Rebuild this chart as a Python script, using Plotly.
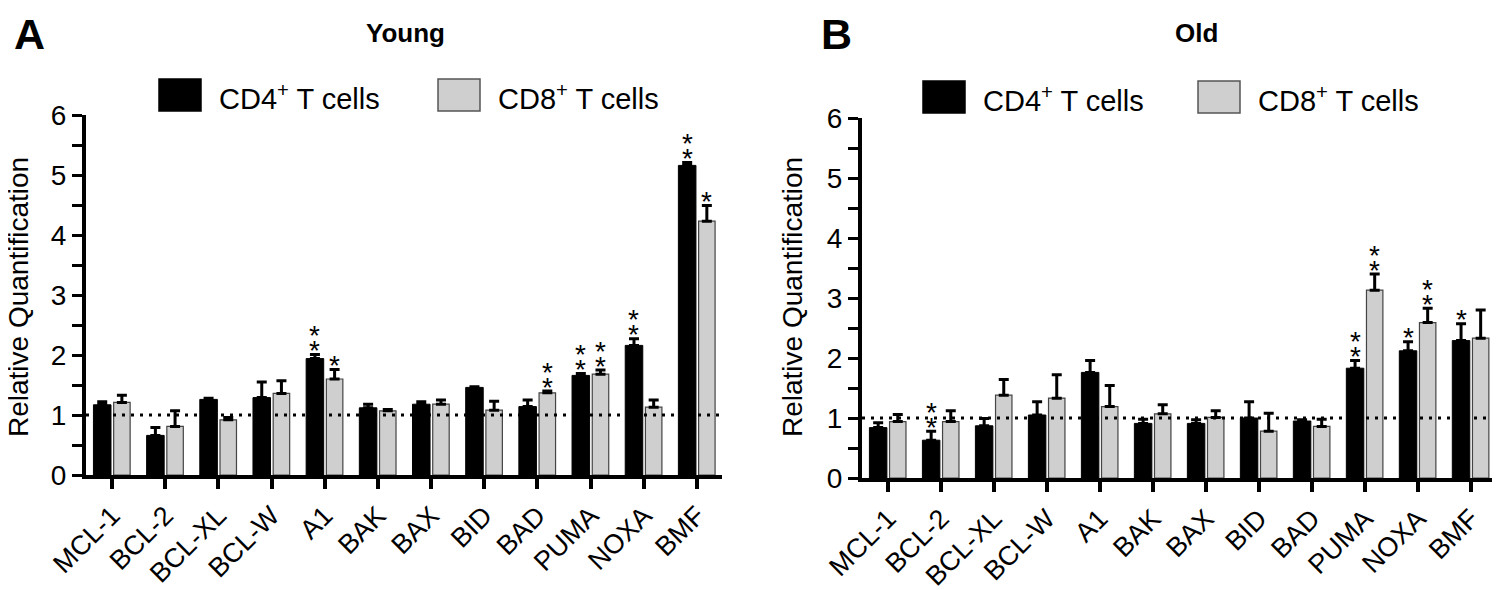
import plotly.graph_objects as go

# genes on the x axis
genes = ["MCL-1", "BCL-2", "BCL-XL", "BCL-W", "A1", "BAK", "BAX", "BID", "BAD", "PUMA", "NOXA", "BMF"]

# young mice - relative quantification (mean) and upper error (SEM)
young_cd4 = [1.17, 0.66, 1.26, 1.29, 1.94, 1.12, 1.18, 1.46, 1.14, 1.66, 2.16, 5.16]
young_cd4_err = [0.05, 0.13, 0.02, 0.26, 0.07, 0.06, 0.04, 0.01, 0.11, 0.03, 0.11, 0.05]
young_cd8 = [1.21, 0.81, 0.92, 1.36, 1.60, 1.07, 1.18, 1.08, 1.37, 1.68, 1.13, 4.23]
young_cd8_err = [0.12, 0.26, 0.04, 0.21, 0.16, 0.02, 0.07, 0.15, 0.03, 0.07, 0.12, 0.26]
young_cd4_stars = [0, 0, 0, 0, 2, 0, 0, 0, 0, 2, 2, 2]
young_cd8_stars = [0, 0, 0, 0, 1, 0, 0, 0, 2, 2, 0, 1]

# old mice
old_cd4 = [0.84, 0.63, 0.87, 1.05, 1.76, 0.91, 0.91, 1.00, 0.95, 1.83, 2.12, 2.29]
old_cd4_err = [0.08, 0.15, 0.12, 0.22, 0.20, 0.07, 0.06, 0.27, 0.02, 0.13, 0.15, 0.28]
old_cd8 = [0.94, 0.94, 1.38, 1.33, 1.19, 1.07, 1.01, 0.78, 0.86, 3.13, 2.59, 2.33]
old_cd8_err = [0.12, 0.18, 0.26, 0.39, 0.35, 0.15, 0.11, 0.30, 0.12, 0.27, 0.24, 0.47]
old_cd4_stars = [0, 2, 0, 0, 0, 0, 0, 0, 0, 2, 1, 1]
old_cd8_stars = [0, 0, 0, 0, 0, 0, 0, 0, 0, 2, 2, 0]

FONT = "Liberation Sans, Arial, sans-serif"
GREY = "#cfcfcf"
W, H = 1500, 590
PAGE_PAD = 8  # the html body adds an 8px margin round the figure


# pixel position on the page -> paper fraction
def px(x):
    return (x - PAGE_PAD) / W


def py(y):
    return 1 - (y - PAGE_PAD) / H


fig = go.Figure()

panels = [
    ("x", "y", young_cd4, young_cd4_err, young_cd8, young_cd8_err, young_cd4_stars, young_cd8_stars),
    ("x2", "y2", old_cd4, old_cd4_err, old_cd8, old_cd8_err, old_cd4_stars, old_cd8_stars),
]

for xa, ya, cd4, cd4_err, cd8, cd8_err, st4, st8 in panels:
    # CD4 bars (black)
    fig.add_trace(go.Bar(
        x=genes, y=cd4, xaxis=xa, yaxis=ya,
        width=0.33, offset=-0.35,
        marker=dict(color="black", line=dict(color="black", width=1)),
        error_y=dict(type="data", symmetric=False, array=cd4_err, arrayminus=[0] * len(cd4),
                     color="black", thickness=3, width=5),
        showlegend=False,
    ))
    # CD8 bars (grey)
    fig.add_trace(go.Bar(
        x=genes, y=cd8, xaxis=xa, yaxis=ya,
        width=0.31, offset=0.03,
        marker=dict(color=GREY, line=dict(color="#444444", width=1.2)),
        error_y=dict(type="data", symmetric=False, array=cd8_err, arrayminus=[0] * len(cd8),
                     color="black", thickness=3, width=5),
        showlegend=False,
    ))
    # significance stars above the error bars
    for vals, errs, stars, dx in [(cd4, cd4_err, st4, -0.185), (cd8, cd8_err, st8, 0.185)]:
        for i in range(len(genes)):
            for k in range(stars[i]):
                fig.add_annotation(
                    x=i + dx, y=vals[i] + errs[i], xref=xa, yref=ya,
                    text="*", showarrow=False, yanchor="middle",
                    yshift=4 + 15 * k,
                    font=dict(family=FONT, size=28, color="black"),
                )
    # dotted reference line at 1
    fig.add_shape(type="line", xref=xa + " domain", yref=ya, x0=0, x1=1, y0=1, y1=1,
                  line=dict(color="black", width=3, dash="3px,6px"), layer="above")

axis_x = dict(
    type="category", showline=True, linecolor="black", linewidth=4, automargin=False,
    ticks="outside", ticklen=10, tickwidth=4, tickcolor="black",
    tickangle=-45, tickfont=dict(family=FONT, size=27, color="black"),
    showgrid=False, zeroline=False,
)
axis_y = dict(
    range=[0, 6], dtick=1, showline=True, linecolor="black", linewidth=4, automargin=False,
    ticks="outside", ticklen=10, tickwidth=3, tickcolor="black",
    minor=dict(dtick=0.5, ticks="outside", ticklen=10, tickwidth=3, tickcolor="black"),
    tickfont=dict(family=FONT, size=28, color="black"),
    showgrid=False, zeroline=False,
)

fig.update_layout(
    template="none",
    width=W, height=H,
    margin=dict(l=0, r=0, t=0, b=0),
    plot_bgcolor="white", paper_bgcolor="white",
    barmode="overlay",
    xaxis=dict(axis_x, domain=[px(86), px(722)], range=[-0.49, 11.47], anchor="y"),
    yaxis=dict(axis_y, domain=[py(475), py(115)], anchor="x"),
    xaxis2=dict(axis_x, domain=[px(862), px(1500)], range=[-0.49, 11.55], anchor="y2"),
    yaxis2=dict(axis_y, domain=[py(478), py(118)], anchor="x2"),
)

# panel letters, titles and y axis titles
for letter, lx, title, tx, qx in [("A", 29, "Young", 405, 19), ("B", 836, "Old", 1196, 793)]:
    fig.add_annotation(x=px(lx), y=py(34), xref="paper", yref="paper", text="<b>" + letter + "</b>",
                       xanchor="center", yanchor="middle", showarrow=False,
                       font=dict(family=FONT, size=43, color="black"))
    fig.add_annotation(x=px(tx), y=py(33), xref="paper", yref="paper", text="<b>" + title + "</b>",
                       xanchor="center", yanchor="middle", showarrow=False,
                       font=dict(family=FONT, size=26, color="black"))
    fig.add_annotation(x=px(qx), y=py(297), xref="paper", yref="paper", text="Relative Quantification",
                       xanchor="center", yanchor="middle", textangle=-90, showarrow=False,
                       font=dict(family=FONT, size=28, color="black"))

# legend boxes drawn by hand so the keys are as large as in the figure
for x0, y0, fill, edge, label in [
    (159, 79, "black", "black", "CD4<sup>+</sup> T cells"),
    (438, 79, GREY, "#555555", "CD8<sup>+</sup> T cells"),
    (923, 81, "black", "black", "CD4<sup>+</sup> T cells"),
    (1198, 81, GREY, "#555555", "CD8<sup>+</sup> T cells"),
]:
    fig.add_shape(type="rect", xref="paper", yref="paper",
                  x0=px(x0), x1=px(x0 + 42), y0=py(y0 + 32), y1=py(y0),
                  fillcolor=fill, line=dict(color=edge, width=1.5))
    fig.add_annotation(x=px(x0 + 58), y=py(y0 + 18), xref="paper", yref="paper", text=label,
                       xanchor="left", yanchor="middle", showarrow=False,
                       font=dict(family=FONT, size=29, color="black"))

fig.write_html("out.html")
